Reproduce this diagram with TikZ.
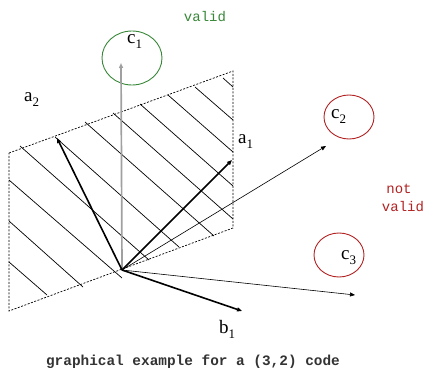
\documentclass[tikz,border=0pt]{standalone}
\usepackage{fontspec}
\setmainfont{Liberation Serif}
\setmonofont{Liberation Mono}
\usetikzlibrary{arrows.meta,shapes.geometric}
\definecolor{okgreen}{RGB}{56,135,56}
\definecolor{badred}{RGB}{178,34,34}
\definecolor{vecgray}{RGB}{160,160,160}
\newcommand\vlab[2]{#1\raisebox{-5pt}{\fontsize{13}{13}\selectfont #2}}
\begin{document}
\begin{tikzpicture}[x=1pt,y=-1pt,
 tip/.style={-{Triangle[length=5pt,width=4pt]}},
 thinvec/.style={tip,line width=0.6pt},
 boldvec/.style={tip,line width=1.6pt},
 grayvec/.style={tip,line width=1.7pt,draw=vecgray},
 border/.style={dash pattern=on 2pt off 1.5pt, line width=0.7pt},
 hatch/.style={line width=0.7pt},
 ring/.style={ellipse, draw, line width=0.9pt, inner sep=0pt},
 lbl/.style={inner sep=0pt, anchor=base west, font=\fontsize{19}{19}\selectfont},
 note/.style={font=\ttfamily\fontsize{14}{16}\selectfont, inner sep=0pt, align=center}]
\useasboundingbox (0,0) rectangle (426,369);
% parallelogram corners
\coordinate (TL) at (9,153);
\coordinate (TR) at (233,71);
\coordinate (BR) at (233,228);
\coordinate (BL) at (9,311);
\coordinate (O) at (122,270);
% hatch lines
\draw[hatch] (9,262) -- (47,295);
\draw[hatch] (9,221) -- (83,287);
\draw[hatch] (9,180) -- (122,278);
\draw[hatch] (20,146) -- (149,260);
\draw[hatch] (55,137) -- (179,247);
\draw[hatch] (85,122) -- (214,236);
\draw[hatch] (113,113) -- (233,219);
\draw[hatch] (140,104) -- (233,186);
\draw[hatch] (168,95) -- (233,152);
\draw[hatch] (195,87) -- (233,120);
\draw[hatch] (223,78) -- (233,87);
\draw[border] (TL) -- (TR) -- (BR) -- (BL) -- cycle;
% circles
\node[ring, draw=okgreen, minimum width=60pt, minimum height=54pt] (c1) at (132,58) {};
\node[ring, draw=badred, minimum width=50pt, minimum height=44pt] (c2) at (349,117) {};
\node[ring, draw=badred, minimum width=50pt, minimum height=44pt] (c3) at (339,255) {};
% vector end points
\coordinate (e1) at (121,63);
\coordinate (a2t) at (57,138);
\coordinate (a1t) at (232,160);
\coordinate (e2) at (326,146);
\coordinate (e3) at (355,295);
\coordinate (b1t) at (242,311);
\draw[grayvec] (O) -- (e1);
\draw[thinvec] (O) -- (e2);
\draw[thinvec] (O) -- (e3);
\draw[boldvec] (O) -- (a2t);
\draw[boldvec] (O) -- (a1t);
\draw[boldvec] (O) -- (b1t);
% labels
\node[lbl] (lc1) at (127,44) {\vlab{c}{1}};
\node[lbl] (lc2) at (331,118) {\vlab{c}{2}};
\node[lbl] (lc3) at (341,259) {\vlab{c}{3}};
\node[lbl] (la2) at (24,102) {\vlab{a}{2}};
\node[lbl] (la1) at (238,143) {\vlab{a}{1}};
\node[lbl] (lb1) at (219,333) {\vlab{b}{1}};
\node[note, text=okgreen] (valid) at (205,17) {valid};
\node[note, text=badred] (not) at (399,189) {not};
\node[note, text=badred] (nvalid) at (403,207) {valid};
\node[note, font=\ttfamily\bfseries\fontsize{14.4}{16}\selectfont, text=black!80] (cap) at (193,362) {graphical example for a (3,2) code};
\end{tikzpicture}
\end{document}
